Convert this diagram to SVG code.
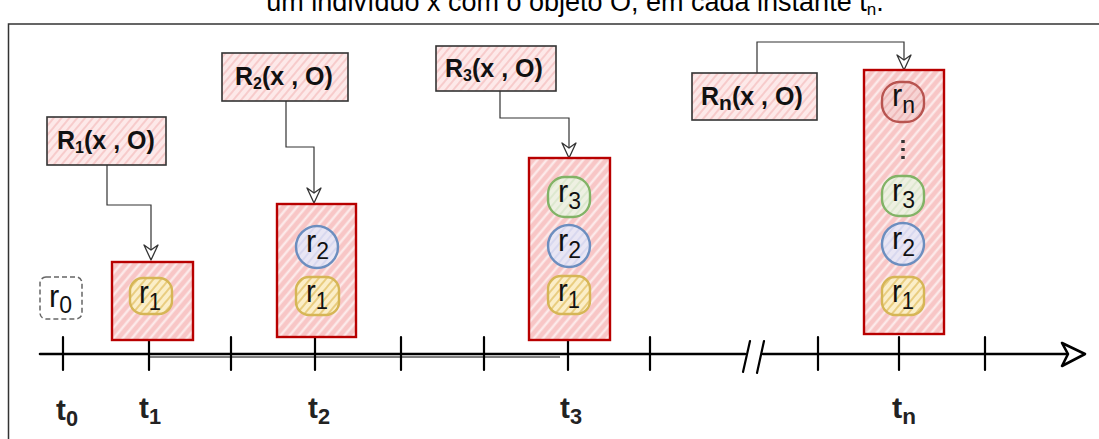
<svg xmlns="http://www.w3.org/2000/svg" width="1099" height="439" viewBox="0 0 1099 439">
<defs>
<pattern id="hRed" patternUnits="userSpaceOnUse" width="7" height="7" patternTransform="rotate(-50)">
<rect width="7" height="7" fill="#f8c6c6"/>
<line x1="0" y1="3.5" x2="7" y2="3.5" stroke="#fdeeee" stroke-width="2.2"/>
</pattern>
<pattern id="hLbl" patternUnits="userSpaceOnUse" width="6" height="6" patternTransform="rotate(-50)">
<rect width="6" height="6" fill="#fde9e9"/>
<line x1="0" y1="3" x2="6" y2="3" stroke="#f6c4c4" stroke-width="1.6"/>
</pattern>
<pattern id="hY" patternUnits="userSpaceOnUse" width="6" height="6" patternTransform="rotate(-50)">
<rect width="6" height="6" fill="#fbeec8"/>
<line x1="0" y1="3" x2="6" y2="3" stroke="#e9cd80" stroke-width="2"/>
</pattern>
<pattern id="hB" patternUnits="userSpaceOnUse" width="6" height="6" patternTransform="rotate(-50)">
<rect width="6" height="6" fill="#e9e6f4"/>
<line x1="0" y1="3" x2="6" y2="3" stroke="#d8d8ef" stroke-width="2"/>
</pattern>
<pattern id="hG" patternUnits="userSpaceOnUse" width="6" height="6" patternTransform="rotate(-50)">
<rect width="6" height="6" fill="#eef0e2"/>
<line x1="0" y1="3" x2="6" y2="3" stroke="#dde8cf" stroke-width="2"/>
</pattern>
<pattern id="hR" patternUnits="userSpaceOnUse" width="6" height="6" patternTransform="rotate(-50)">
<rect width="6" height="6" fill="#f6d4d4"/>
<line x1="0" y1="3" x2="6" y2="3" stroke="#eeb8b8" stroke-width="2"/>
</pattern>
<path id="ah" d="M-7,-15 L0,0 L7,-15 L0,-10 Z" fill="#fff" stroke="#333" stroke-width="1.3" stroke-linejoin="round"/>
</defs>
<style>
.title{font-family:"Liberation Sans",Arial,sans-serif;font-size:27px;fill:#000}
.lbl{font-family:"Liberation Sans",Arial,sans-serif;font-size:25px;font-weight:bold;fill:#111}
.lblbox{fill:url(#hLbl);stroke:#333;stroke-width:1.6}
.box{fill:url(#hRed);stroke:#b80000;stroke-width:2.4}
.rt{font-family:"Liberation Sans",Arial,sans-serif;font-size:32px;fill:#111}
.sub{font-size:24px}
.tl{font-family:"Liberation Sans",Arial,sans-serif;font-size:30px;font-weight:bold;fill:#222}
.conn{fill:none;stroke:#333;stroke-width:1.2}
.axis{fill:none;stroke:#000;stroke-width:2.6;stroke-linecap:round}
.tick{stroke:#000;stroke-width:2.2;stroke-linecap:round}
.cy{fill:url(#hY);stroke:#d6b656;stroke-width:2.4}
.cb{fill:url(#hB);stroke:#6c8ebf;stroke-width:2.4}
.cg{fill:url(#hG);stroke:#82b366;stroke-width:2.4}
.cr{fill:url(#hR);stroke:#b85450;stroke-width:2.4}
</style>
<rect width="1099" height="439" fill="#fff"/>
<text class="title" x="575" y="11" text-anchor="middle">um indivíduo x com o objeto O, em cada instante t<tspan font-size="17" dy="4">n</tspan><tspan dy="-4">.</tspan></text>
<path d="M8.5,439 V24 H1099" fill="none" stroke="#333" stroke-width="1.5"/>

<g id="axis">
<path class="axis" d="M40,354 H745 M763,354 H1082"/>
<path d="M150,357 H560" stroke="#000" stroke-width="1" fill="none"/>
<path d="M1062,343 L1085,354 L1062,366 L1068,354 Z" fill="#fff" stroke="#000" stroke-width="2.6" stroke-linejoin="round"/>
<path class="tick" d="M743,372 L750,341 M757,373 L764,341"/>
<path class="tick" d="M63,337 V370 M149,337 V370 M231,337 V370 M315,337 V370 M401,337 V370 M484,337 V370 M568,337 V370 M650,337 V370 M818,337 V370 M899,337 V370 M985,337 V370"/>
</g>

<g id="tlabels">
<text class="tl" x="56" y="420" textLength="22" lengthAdjust="spacingAndGlyphs">t<tspan font-size="22" dy="6">0</tspan></text>
<text class="tl" x="139" y="418" textLength="22" lengthAdjust="spacingAndGlyphs">t<tspan font-size="22" dy="6">1</tspan></text>
<text class="tl" x="308" y="418" textLength="22" lengthAdjust="spacingAndGlyphs">t<tspan font-size="22" dy="6">2</tspan></text>
<text class="tl" x="560" y="418" textLength="22" lengthAdjust="spacingAndGlyphs">t<tspan font-size="22" dy="6">3</tspan></text>
<text class="tl" x="892" y="418" textLength="24" lengthAdjust="spacingAndGlyphs">t<tspan font-size="22" dy="6">n</tspan></text>
</g>

<g id="connectors">
<path class="conn" d="M107,165 V205 H151 V252"/>
<use href="#ah" x="151" y="260"/>
<path class="conn" d="M286,101 V147 H314 V195"/>
<use href="#ah" x="314" y="203"/>
<path class="conn" d="M500,91 V118 H569 V150"/>
<use href="#ah" x="569" y="158"/>
<path class="conn" d="M757,73 V42 H904 V62"/>
<use href="#ah" x="904" y="70"/>
</g>

<g id="r0">
<rect x="40" y="277" width="42" height="42" rx="6" fill="#fff" stroke="#666" stroke-width="1.5" stroke-dasharray="5 3"/>
<text class="rt" x="49" y="307" fill="#333" textLength="23" lengthAdjust="spacingAndGlyphs">r<tspan class="sub" dy="6">0</tspan></text>
</g>

<g id="R1">
<rect class="lblbox" x="47" y="117" width="119" height="48"/>
<text class="lbl" x="57" y="149">R<tspan font-size="16" dy="4">1</tspan><tspan dy="-4">(x , O)</tspan></text>
</g>
<g id="R2">
<rect class="lblbox" x="222" y="53" width="126" height="48"/>
<text class="lbl" x="235" y="85">R<tspan font-size="16" dy="4">2</tspan><tspan dy="-4">(x , O)</tspan></text>
</g>
<g id="R3">
<rect class="lblbox" x="436" y="46" width="120" height="45"/>
<text class="lbl" x="445" y="77">R<tspan font-size="16" dy="4">3</tspan><tspan dy="-4">(x , O)</tspan></text>
</g>
<g id="Rn">
<rect class="lblbox" x="692" y="73" width="125" height="47"/>
<text class="lbl" x="701" y="105">R<tspan font-size="21" dy="5">n</tspan><tspan dy="-5">(x , O)</tspan></text>
</g>

<g id="box1">
<rect class="box" x="112" y="262" width="81" height="78"/>
<rect class="cy" x="130" y="278" width="42" height="36" rx="13"/>
<text class="rt" x="139" y="303" textLength="22" lengthAdjust="spacingAndGlyphs">r<tspan class="sub" dy="7">1</tspan></text>
</g>

<g id="box2">
<rect class="box" x="277" y="204" width="79" height="133"/>
<circle class="cb" cx="317" cy="247" r="21"/>
<text class="rt" x="306" y="252" textLength="23" lengthAdjust="spacingAndGlyphs">r<tspan class="sub" dy="7">2</tspan></text>
<rect class="cy" x="296" y="277" width="43" height="38" rx="13"/>
<text class="rt" x="306" y="302" textLength="22" lengthAdjust="spacingAndGlyphs">r<tspan class="sub" dy="7">1</tspan></text>
</g>

<g id="box3">
<rect class="box" x="529" y="158" width="81" height="182"/>
<rect class="cg" x="548" y="177" width="42" height="40" rx="17"/>
<text class="rt" x="558" y="202" textLength="23" lengthAdjust="spacingAndGlyphs">r<tspan class="sub" dy="7">3</tspan></text>
<circle class="cb" cx="569" cy="246" r="21"/>
<text class="rt" x="558" y="251" textLength="23" lengthAdjust="spacingAndGlyphs">r<tspan class="sub" dy="7">2</tspan></text>
<rect class="cy" x="548" y="276" width="42" height="38" rx="13"/>
<text class="rt" x="558" y="301" textLength="22" lengthAdjust="spacingAndGlyphs">r<tspan class="sub" dy="7">1</tspan></text>
</g>

<g id="boxn">
<rect class="box" x="864" y="70" width="80" height="264"/>
<rect class="cr" x="882" y="82" width="42" height="40" rx="18"/>
<text class="rt" x="892" y="106" textLength="23" lengthAdjust="spacingAndGlyphs">r<tspan class="sub" dy="7">n</tspan></text>
<path d="M903,140 V143 M903,148 V151 M903,156 V159" stroke="#333" stroke-width="3.5"/>
<rect class="cg" x="882" y="176" width="42" height="40" rx="17"/>
<text class="rt" x="892" y="201" textLength="23" lengthAdjust="spacingAndGlyphs">r<tspan class="sub" dy="7">3</tspan></text>
<circle class="cb" cx="903" cy="244" r="21"/>
<text class="rt" x="892" y="249" textLength="23" lengthAdjust="spacingAndGlyphs">r<tspan class="sub" dy="7">2</tspan></text>
<rect class="cy" x="882" y="277" width="42" height="38" rx="13"/>
<text class="rt" x="892" y="302" textLength="22" lengthAdjust="spacingAndGlyphs">r<tspan class="sub" dy="7">1</tspan></text>
</g>
</svg>
